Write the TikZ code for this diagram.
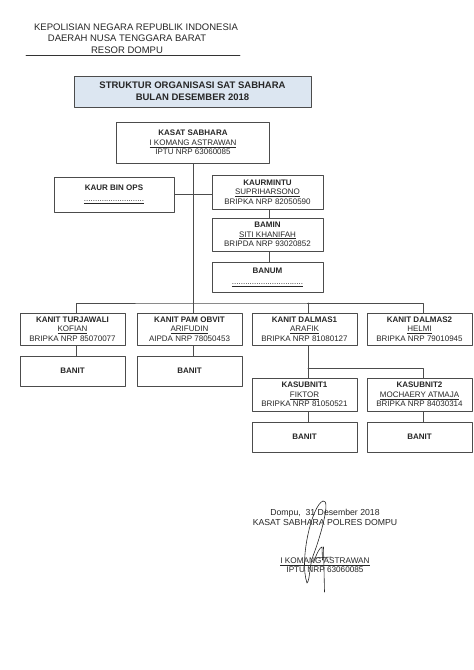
\documentclass[tikz,border=0pt]{standalone}
\usepackage{fontspec}
\setmainfont{Liberation Sans}
\definecolor{titlefill}{RGB}{220,230,241}
\begin{document}
\begin{tikzpicture}[x=1pt,y=-1pt,line cap=round,line join=round,font=\fontsize{8}{9.3}\selectfont]
	\tikzset{box style/.style={draw=black!70,line width=0.7pt,align=center,inner sep=0pt,text=black!85},
		link style/.style={draw=black!70,line width=0.7pt},
		sig style/.style={draw=black!85,line width=0.6pt},
		head style/.style={text=black!85,font=\fontsize{9.5}{11}\selectfont}}
	\useasboundingbox (0,0) rectangle (474,670);
	% heading
	\node[head style] (hdr1) at (136,27) {KEPOLISIAN NEGARA REPUBLIK INDONESIA};
	\node[head style] (hdr2) at (127,38.5) {DAERAH NUSA TENGGARA BARAT};
	\node[head style] (hdr3) at (127,50) {RESOR DOMPU};
	\draw[black!80,line width=0.6pt] (26,55) -- (240,55);
	\node[box style,fill=titlefill,minimum width=237,minimum height=31,font=\fontsize{9.5}{12}\selectfont\bfseries] (title) at (192.5,91.5) {STRUKTUR ORGANISASI SAT SABHARA\\BULAN DESEMBER 2018};
	% staff
	\node[box style,minimum width=153,minimum height=41] (kasat) at (193,142.5) {\textbf{KASAT SABHARA}\\\underline{I KOMANG ASTRAWAN}\\IPTU NRP 63060085};
	\node[box style,minimum width=120,minimum height=35] (kaurbin) at (114,194.5) {\textbf{KAUR BIN OPS}\\[2pt]\underline{...........................}};
	\node[box style,minimum width=111,minimum height=34] (kaurmintu) at (267.5,192) {\textbf{KAURMINTU}\\\underline{SUPRIHARSONO}\\BRIPKA NRP 82050590};
	\node[box style,minimum width=111,minimum height=33] (bamin) at (267.5,234.5) {\textbf{BAMIN}\\\underline{SITI KHANIFAH}\\BRIPDA NRP 93020852};
	\node[box style,minimum width=111,minimum height=30] (banum) at (267.5,277) {\textbf{BANUM}\\[2pt]\underline{................................}};
	% units
	\node[box style,minimum width=105,minimum height=32] (turja) at (72.5,329) {\textbf{KANIT TURJAWALI}\\\underline{KOFIAN}\\BRIPKA NRP 85070077};
	\node[box style,minimum width=105,minimum height=32] (pam) at (189.5,329) {\textbf{KANIT PAM OBVIT}\\\underline{ARIFUDIN}\\AIPDA NRP 78050453};
	\node[box style,minimum width=105,minimum height=32] (dalmas1) at (304.5,329) {\textbf{KANIT DALMAS1}\\\underline{ARAFIK}\\BRIPKA NRP 81080127};
	\node[box style,minimum width=105,minimum height=32] (dalmas2) at (419.5,329) {\textbf{KANIT DALMAS2}\\\underline{HELMI}\\BRIPKA NRP 79010945};
	\node[box style,minimum width=105,minimum height=30] (banit1) at (72.5,371) {\textbf{BANIT}};
	\node[box style,minimum width=105,minimum height=30] (banit2) at (189.5,371) {\textbf{BANIT}};
	\node[box style,minimum width=105,minimum height=33] (kasub1) at (304.5,394.5) {\textbf{KASUBNIT1}\\\underline{FIKTOR}\\BRIPKA NRP 81050521};
	\node[box style,minimum width=105,minimum height=33] (kasub2) at (419.5,394.5) {\textbf{KASUBNIT2}\\\underline{MOCHAERY ATMAJA}\\BRIPKA NRP 84030314};
	\node[box style,minimum width=105,minimum height=30] (banit3) at (304.5,437) {\textbf{BANIT}};
	\node[box style,minimum width=105,minimum height=30] (banit4) at (419.5,437) {\textbf{BANIT}};
	% connectors
	\coordinate (bus) at (193,303);
	\coordinate (split) at (308,368);
	\draw[link style] (kasat.south) -- (bus);
	\draw[link style] (kaurbin.east) -- (kaurbin.east -| kaurmintu.west);
	\draw[link style] ([xshift=1.5pt]kaurmintu.south) -- ([xshift=1.5pt]bamin.north);
	\draw[link style] ([xshift=1.5pt]bamin.south) -- ([xshift=1.5pt]banum.north);
	\draw[link style] ([xshift=3.5pt]turja.north) |- (bus) -| ([xshift=3.5pt]dalmas2.north);
	\draw[link style] ([xshift=3.5pt]pam.north) -- (bus);
	\draw[link style] ([xshift=3.5pt]dalmas1.north) -- ([xshift=3.5pt]dalmas1.north |- bus);
	\draw[link style] ([xshift=3.5pt]turja.south) -- ([xshift=3.5pt]banit1.north);
	\draw[link style] ([xshift=3.5pt]pam.south) -- ([xshift=3.5pt]banit2.north);
	\draw[link style] ([xshift=3.5pt]dalmas1.south) -- ([xshift=3.5pt]kasub1.north);
	\draw[link style] (split) -| ([xshift=3.5pt]kasub2.north);
	\draw[link style] ([xshift=3.5pt]kasub1.south) -- ([xshift=3.5pt]banit3.north);
	\draw[link style] ([xshift=3.5pt]kasub2.south) -- ([xshift=3.5pt]banit4.north);
	% signature block
	\node[text=black!85,align=center,font=\fontsize{8.7}{10}\selectfont] (place) at (325,517) {Dompu,~ 31 Desember 2018\\KASAT SABHARA POLRES DOMPU};
	\node[text=black!85,align=center,font=\fontsize{8.2}{9}\selectfont] (signer) at (325,565.5) {\underline{I KOMANG ASTRAWAN}\\IPTU NRP 63060085};
	\draw[sig style] (307,583) .. controls (299,560) and (312,505) .. (323,501) .. controls (331,499) and (321,535) .. (313,556) .. controls (309,568) and (310,580) .. (307,583);
	\draw[sig style] (314,561) .. controls (317,553) and (320,547) .. (322,547) -- (322.5,560);
	\draw[sig style] (323.5,547) -- (324.5,592);
	\draw[sig style] (315,558) -- (331,557);
\end{tikzpicture}
\end{document}
